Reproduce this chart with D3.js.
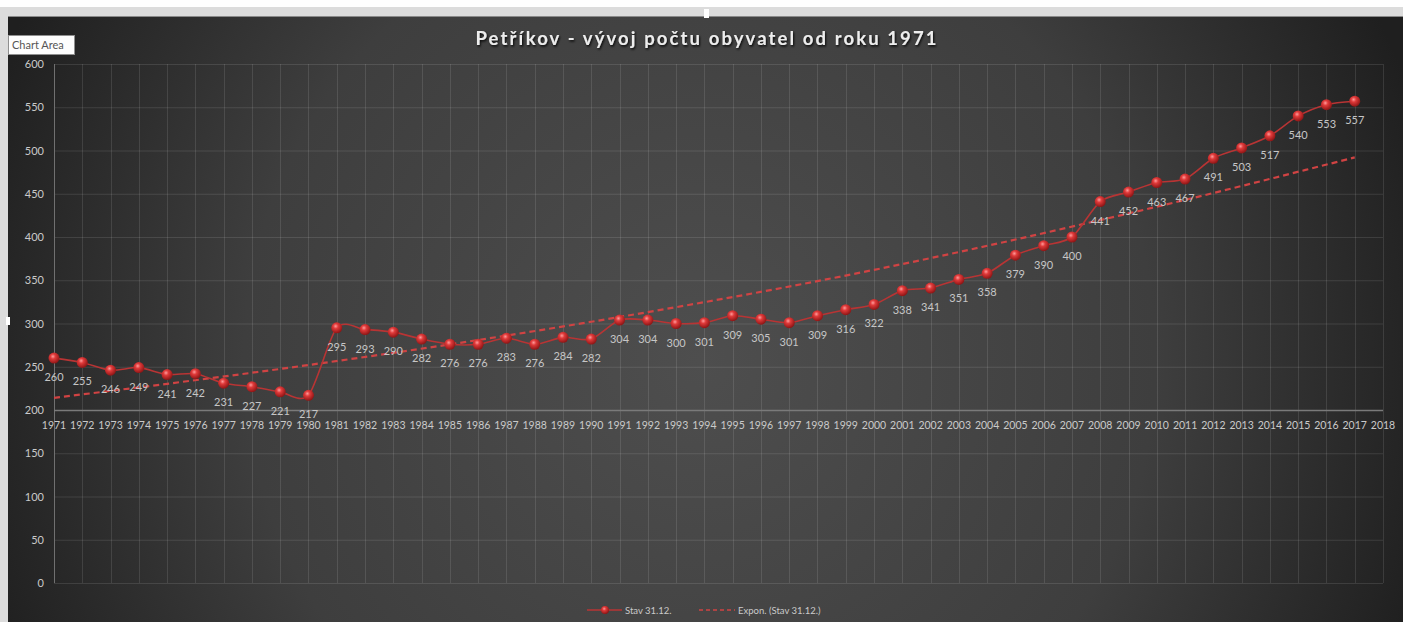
<!DOCTYPE html>
<html>
<head>
<meta charset="utf-8">
<script src="https://cdn.jsdelivr.net/npm/d3@7"></script>
<style>
  body { margin: 0; background: #fff; overflow: hidden; }
  svg { display: block; }
</style>
</head>
<body>
<div id="graf"></div>
<script>
// Datos
const roky = d3.range(1971, 2018)
const stav = [260, 255, 246, 249, 241, 242, 231, 227, 221, 217, 295, 293, 290, 282, 276, 276, 283, 276, 284, 282,
  304, 304, 300, 301, 309, 305, 301, 309, 316, 322, 338, 341, 351, 358, 379, 390, 400, 441, 452, 463, 467, 491,
  503, 517, 540, 553, 557]
// Trend (Expon.)
const trendRoky = [1971, 1980, 1990, 2000, 2010, 2017]
const trendHodnoty = [214, 252, 302, 362, 435, 492]
const yTicks = [0, 50, 100, 150, 200, 250, 300, 350, 400, 450, 500, 550, 600]
const xTicks = d3.range(1971, 2019)
const titulek = 'Petříkov - vývoj počtu obyvatel od roku 1971'
const legenda = ['Stav 31.12.', 'Expon. (Stav 31.12.)']

const W = 1403, H = 622
const svg = d3.select('#graf').append('svg').attr('width', W).attr('height', H)
const defs = svg.append('defs')

const bg = defs.append('radialGradient').attr('id', 'bg')
  .attr('gradientUnits', 'userSpaceOnUse').attr('cx', 700).attr('cy', 360).attr('r', 760)
bg.append('stop').attr('offset', '0%').attr('stop-color', '#4e4e4e')
bg.append('stop').attr('offset', '60%').attr('stop-color', '#3e3e3e')
bg.append('stop').attr('offset', '100%').attr('stop-color', '#1f1f1f')

const ball = defs.append('radialGradient').attr('id', 'ball').attr('cx', '40%').attr('cy', '35%').attr('r', '65%')
ball.append('stop').attr('offset', '0%').attr('stop-color', '#ff9a9a')
ball.append('stop').attr('offset', '35%').attr('stop-color', '#e03a3a')
ball.append('stop').attr('offset', '100%').attr('stop-color', '#8e1515')

const shadow = defs.append('filter').attr('id', 'ts').attr('x', '-5%').attr('y', '-20%').attr('width', '110%').attr('height', '140%')
shadow.append('feDropShadow').attr('dx', 1).attr('dy', 1.5).attr('stdDeviation', 0.8).attr('flood-color', '#000').attr('flood-opacity', 0.9)

// okno Excelu
svg.append('rect').attr('x', 0).attr('y', 0).attr('width', W).attr('height', H).attr('fill', '#ffffff')
svg.append('rect').attr('x', 0).attr('y', 7).attr('width', W).attr('height', 10).attr('fill', '#dcdcdc')
svg.append('rect').attr('x', 0).attr('y', 7).attr('width', 8).attr('height', H).attr('fill', '#dcdcdc')
svg.append('rect').attr('x', 8).attr('y', 17).attr('width', W - 8).attr('height', H - 17).attr('fill', 'url(#bg)')
svg.append('line').attr('x1', 8).attr('x2', W).attr('y1', 16.5).attr('y2', 16.5).attr('stroke', '#8a8a8a')
svg.append('rect').attr('x', 704).attr('y', 9).attr('width', 5).attr('height', 9).attr('fill', '#ffffff')
svg.append('rect').attr('x', 6).attr('y', 317).attr('width', 4).attr('height', 8).attr('fill', '#ffffff')

// škály
const x = d3.scaleLinear().domain([1971, 2018]).range([54, 1383])
const y = d3.scaleLinear().domain([0, 600]).range([583, 64])

// mřížka
svg.append('g').selectAll('line').data(yTicks).enter().append('line')
  .attr('x1', x(1971)).attr('x2', x(2018))
  .attr('y1', d => y(d) + 0.5).attr('y2', d => y(d) + 0.5)
  .attr('stroke', 'rgba(255,255,255,0.11)')
svg.append('g').selectAll('line').data(xTicks.slice(1)).enter().append('line')
  .attr('x1', d => Math.round(x(d)) + 0.5).attr('x2', d => Math.round(x(d)) + 0.5)
  .attr('y1', y(600)).attr('y2', y(0))
  .attr('stroke', 'rgba(255,255,255,0.11)')

// osy
svg.append('line').attr('x1', x(1971) + 0.5).attr('x2', x(1971) + 0.5).attr('y1', y(600)).attr('y2', y(0))
  .attr('stroke', '#707070')
svg.append('line').attr('x1', x(1971)).attr('x2', x(2018)).attr('y1', y(200) + 0.5).attr('y2', y(200) + 0.5)
  .attr('stroke', '#7a7a7a').attr('stroke-width', 1.5)

svg.append('g').selectAll('text').data(yTicks).enter().append('text')
  .attr('x', 44).attr('y', d => y(d) + 4)
  .attr('text-anchor', 'end')
  .attr('fill', '#cacaca').attr('font-family', 'Lato, sans-serif').attr('font-size', 11)
  .text(d => d)

svg.append('g').selectAll('text').data(xTicks).enter().append('text')
  .attr('x', d => x(d)).attr('y', y(200) + 19)
  .attr('text-anchor', 'middle')
  .attr('fill', '#cacaca').attr('font-family', 'Lato, sans-serif').attr('font-size', 10.5)
  .text(d => d)

// titulek
svg.append('text').attr('x', 707).attr('y', 45).attr('text-anchor', 'middle')
  .attr('fill', '#ededed').attr('font-family', 'Lato, sans-serif').attr('font-weight', 'bold')
  .attr('font-size', 18.5).attr('letter-spacing', 2.1).attr('filter', 'url(#ts)')
  .text(titulek)

// trend
svg.append('path')
  .datum(trendRoky.map((r, i) => [r, trendHodnoty[i]]))
  .attr('fill', 'none').attr('stroke', '#d04343').attr('stroke-width', 2.2)
  .attr('stroke-dasharray', '6,4')
  .attr('d', d3.line().x(d => x(d[0])).y(d => y(d[1])).curve(d3.curveMonotoneX))

// série
const data = roky.map((r, i) => ({ rok: r, v: stav[i] }))
svg.append('path').datum(data)
  .attr('fill', 'none').attr('stroke', '#b83434').attr('stroke-width', 1.6)
  .attr('d', d3.line().x(d => x(d.rok)).y(d => y(d.v)).curve(d3.curveCardinal.tension(0.2)))

svg.append('g').selectAll('circle').data(data).enter().append('circle')
  .attr('cx', d => x(d.rok)).attr('cy', d => y(d.v)).attr('r', 5.5)
  .attr('fill', 'url(#ball)')

svg.append('g').selectAll('text').data(data).enter().append('text')
  .attr('x', d => x(d.rok)).attr('y', d => y(d.v) + 23)
  .attr('text-anchor', 'middle')
  .attr('fill', '#c6c6c6').attr('font-family', 'Lato, sans-serif').attr('font-size', 11)
  .text(d => d.v)

// legenda
const lg = svg.append('g').attr('font-family', 'Lato, sans-serif').attr('font-size', 9.5).attr('fill', '#cacaca')
lg.append('line').attr('x1', 587).attr('x2', 622).attr('y1', 610).attr('y2', 610).attr('stroke', '#b83434').attr('stroke-width', 1.5)
lg.append('circle').attr('cx', 605).attr('cy', 610).attr('r', 4).attr('fill', 'url(#ball)')
lg.append('text').attr('x', 625).attr('y', 613.5).text(legenda[0])
lg.append('line').attr('x1', 699).attr('x2', 735).attr('y1', 610).attr('y2', 610).attr('stroke', '#d04343')
  .attr('stroke-width', 1.5).attr('stroke-dasharray', '4,3')
lg.append('text').attr('x', 738).attr('y', 613.5).text(legenda[1])

// tooltip "Chart Area"
const tip = svg.append('g')
tip.append('rect').attr('x', 8.5).attr('y', 35.5).attr('width', 66).attr('height', 19)
  .attr('fill', '#fdfdfd').attr('stroke', '#8f8f8f')
tip.append('text').attr('x', 12).attr('y', 49).attr('fill', '#555').attr('font-family', 'Lato, sans-serif')
  .attr('font-size', 11).text('Chart Area')
</script>
</body>
</html>
